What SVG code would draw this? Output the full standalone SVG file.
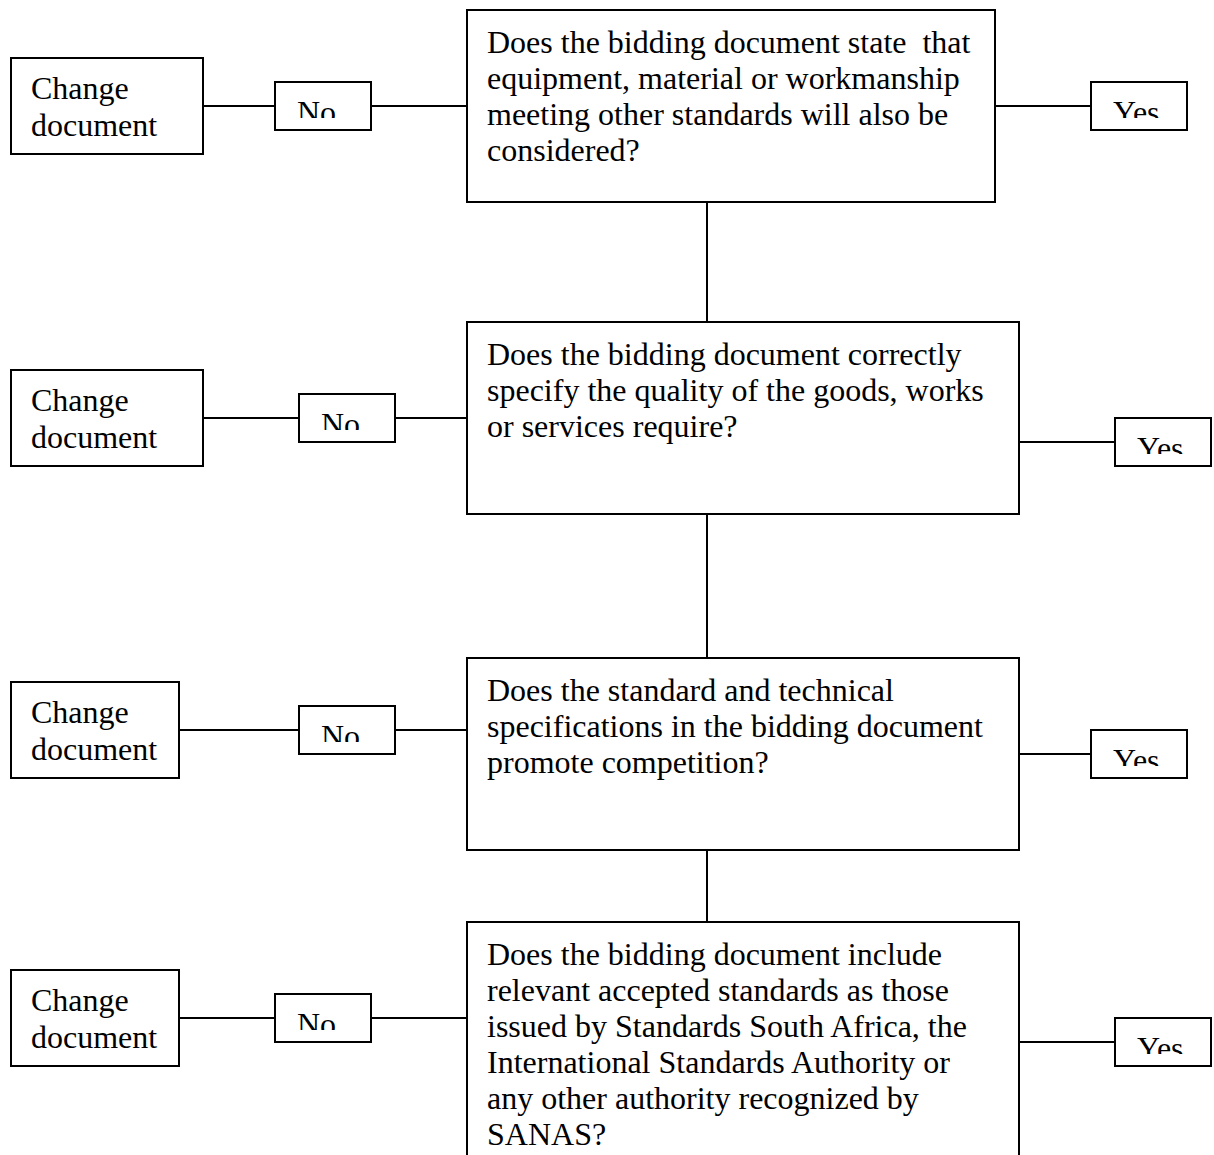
<svg xmlns="http://www.w3.org/2000/svg" width="1214" height="1155" viewBox="0 0 1214 1155">
<style>
.box{fill:#fff;stroke:#000;stroke-width:2}
.t{font-family:"Liberation Serif","Times New Roman",serif;font-size:32px;fill:#000;white-space:pre}
.c{stroke:#000;stroke-width:2;fill:none}
</style>
<defs>
<clipPath id="cN1"><rect x="275" y="82" width="96" height="36"/></clipPath>
<clipPath id="cN2"><rect x="299" y="394" width="96" height="36"/></clipPath>
<clipPath id="cN3"><rect x="299" y="706" width="96" height="36"/></clipPath>
<clipPath id="cN4"><rect x="275" y="994" width="96" height="36"/></clipPath>
<clipPath id="cY1"><rect x="1091" y="82" width="96" height="36"/></clipPath>
<clipPath id="cY2"><rect x="1115" y="418" width="96" height="36"/></clipPath>
<clipPath id="cY3"><rect x="1091" y="730" width="96" height="36"/></clipPath>
<clipPath id="cY4"><rect x="1115" y="1018" width="96" height="36"/></clipPath>
</defs>
<rect width="1214" height="1155" fill="#fff"/>
<g id="connectors">
<path class="c" d="M203 106H275M371 106H467M995 106H1091"/>
<path class="c" d="M203 418H299M395 418H467M1019 442H1115"/>
<path class="c" d="M179 730H299M395 730H467M1019 754H1091"/>
<path class="c" d="M179 1018H275M371 1018H467M1019 1042H1115"/>
<path class="c" d="M707 202V322M707 514V658M707 850V922"/>
</g>
<g id="q1">
<rect class="box" x="467" y="10" width="528" height="192"/>
<text class="t" x="487" y="53">Does the bidding document state  that</text>
<text class="t" x="487" y="89">equipment, material or workmanship</text>
<text class="t" x="487" y="125">meeting other standards will also be</text>
<text class="t" x="487" y="161">considered?</text>
</g>
<g id="q2">
<rect class="box" x="467" y="322" width="552" height="192"/>
<text class="t" x="487" y="365">Does the bidding document correctly</text>
<text class="t" x="487" y="401">specify the quality of the goods, works</text>
<text class="t" x="487" y="437">or services require?</text>
</g>
<g id="q3">
<rect class="box" x="467" y="658" width="552" height="192"/>
<text class="t" x="487" y="701">Does the standard and technical</text>
<text class="t" x="487" y="737">specifications in the bidding document</text>
<text class="t" x="487" y="773">promote competition?</text>
</g>
<g id="q4">
<rect class="box" x="467" y="922" width="552" height="260"/>
<text class="t" x="487" y="965">Does the bidding document include</text>
<text class="t" x="487" y="1001">relevant accepted standards as those</text>
<text class="t" x="487" y="1037">issued by Standards South Africa, the</text>
<text class="t" x="487" y="1073">International Standards Authority or</text>
<text class="t" x="487" y="1109">any other authority recognized by</text>
<text class="t" x="487" y="1145">SANAS?</text>
</g>
<g id="change1">
<rect class="box" x="11" y="58" width="192" height="96"/>
<text class="t" x="31" y="99">Change</text>
<text class="t" x="31" y="136">document</text>
</g>
<g id="change2">
<rect class="box" x="11" y="370" width="192" height="96"/>
<text class="t" x="31" y="411">Change</text>
<text class="t" x="31" y="448">document</text>
</g>
<g id="change3">
<rect class="box" x="11" y="682" width="168" height="96"/>
<text class="t" x="31" y="723">Change</text>
<text class="t" x="31" y="760">document</text>
</g>
<g id="change4">
<rect class="box" x="11" y="970" width="168" height="96"/>
<text class="t" x="31" y="1011">Change</text>
<text class="t" x="31" y="1048">document</text>
</g>
<g id="no1">
<rect class="box" x="275" y="82" width="96" height="48"/>
<text class="t" x="297" y="123" clip-path="url(#cN1)">No</text>
</g>
<g id="no2">
<rect class="box" x="299" y="394" width="96" height="48"/>
<text class="t" x="321" y="435" clip-path="url(#cN2)">No</text>
</g>
<g id="no3">
<rect class="box" x="299" y="706" width="96" height="48"/>
<text class="t" x="321" y="747" clip-path="url(#cN3)">No</text>
</g>
<g id="no4">
<rect class="box" x="275" y="994" width="96" height="48"/>
<text class="t" x="297" y="1035" clip-path="url(#cN4)">No</text>
</g>
<g id="yes1">
<rect class="box" x="1091" y="82" width="96" height="48"/>
<text class="t" x="1113" y="123" clip-path="url(#cY1)">Yes</text>
</g>
<g id="yes2">
<rect class="box" x="1115" y="418" width="96" height="48"/>
<text class="t" x="1137" y="459" clip-path="url(#cY2)">Yes</text>
</g>
<g id="yes3">
<rect class="box" x="1091" y="730" width="96" height="48"/>
<text class="t" x="1113" y="771" clip-path="url(#cY3)">Yes</text>
</g>
<g id="yes4">
<rect class="box" x="1115" y="1018" width="96" height="48"/>
<text class="t" x="1137" y="1059" clip-path="url(#cY4)">Yes</text>
</g>
</svg>
